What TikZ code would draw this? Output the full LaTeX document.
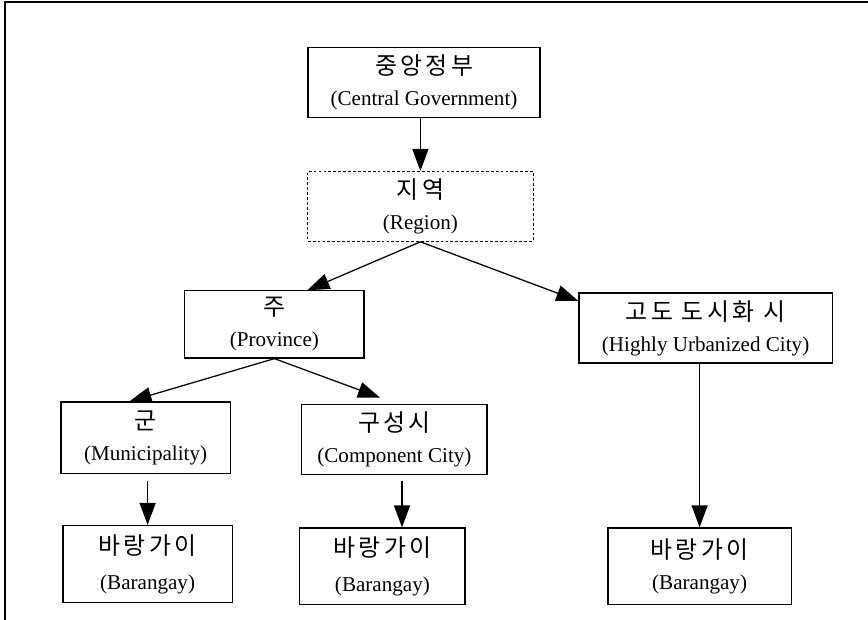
\documentclass[tikz,border=0pt]{standalone}
\usepackage{fontspec}
\setmainfont{Liberation Serif}
\newfontfamily\kr[LetterSpace=14]{Noto Sans CJK KR}
\usetikzlibrary{arrows.meta}

\begin{document}
\begin{tikzpicture}[
  unit/.style={draw, line width=0.9pt, minimum height=1.75cm, align=center, font=\fontsize{15}{22}\selectfont, inner sep=2pt},
  region/.style={unit, line width=0.6pt, dash pattern=on 2pt off 1.5pt},
  brgy/.style={unit, minimum height=1.92cm},
  frame/.style={line width=1.3pt},
  arr/.style={-{Triangle[length=0.55cm,width=0.4cm]}, line width=0.9pt}
]
  \useasboundingbox (0,0) rectangle (21.7,-15.5);

  % Frame
  \coordinate (ftl) at (0.125,-0.05);
  \coordinate (ftr) at (21.7,-0.05);
  \coordinate (fbl) at (0.125,-15.5);
  \draw[frame] (fbl) -- (ftl) -- (ftr);

  % Levels
  \node[unit, minimum width=5.8cm] (cg) at (10.6,-2.06) {{\kr\fontsize{17}{22}\selectfont 중앙정부}\\(Central Government)};
  \node[region, minimum width=5.63cm] (reg) at (10.51,-5.16) {{\kr\fontsize{17}{22}\selectfont 지역}\\(Region)};
  \node[unit, minimum width=4.48cm, minimum height=1.68cm] (prov) at (6.86,-8.11) {{\kr\fontsize{17}{22}\selectfont 주}\\(Province)};
  \node[unit, minimum width=6.33cm] (huc) at (17.64,-8.2) {{\kr\fontsize{17}{22}\selectfont 고도 도시화 시}\\(Highly Urbanized City)};
  \node[unit, minimum width=4.23cm, minimum height=1.78cm] (muni) at (3.64,-10.94) {{\kr\fontsize{17}{22}\selectfont 군}\\(Municipality)};
  \node[unit, minimum width=4.63cm] (comp) at (9.86,-10.98) {{\kr\fontsize{17}{22}\selectfont 구성시}\\(Component City)};

  % Barangays
  \node[brgy, minimum width=4.23cm] (bar1) at (3.69,-14.1) {{\kr\fontsize{17}{22}\selectfont 바랑가이}\\[3pt](Barangay)};
  \node[brgy, minimum width=4.13cm] (bar2) at (9.56,-14.16) {{\kr\fontsize{17}{22}\selectfont 바랑가이}\\[3pt](Barangay)};
  \node[brgy, minimum width=4.58cm] (bar3) at (17.49,-14.16) {{\kr\fontsize{17}{22}\selectfont 바랑가이}\\(Barangay)};

  % Connections
  \draw[arr] (cg.south -| reg.north) -- (reg.north);
  \draw[arr] (reg.south) -- (prov.46);
  \draw[arr] (reg.south) -- (huc.168);
  \draw[arr] (prov.south) -- (muni.114);
  \draw[arr] (prov.south) -- ([shift={(-0.36,0.15)}]comp.north);
  \draw[arr, shorten <=0.18cm] (muni.south -| bar1.north) -- (bar1.north);
  \draw[arr, shorten <=0.15cm] ([xshift=0.19cm]comp.south) -- ([xshift=0.19cm]comp.south |- bar2.north);
  \draw[arr] (huc.south -| bar3.north) -- (bar3.north);
\end{tikzpicture}
\end{document}
